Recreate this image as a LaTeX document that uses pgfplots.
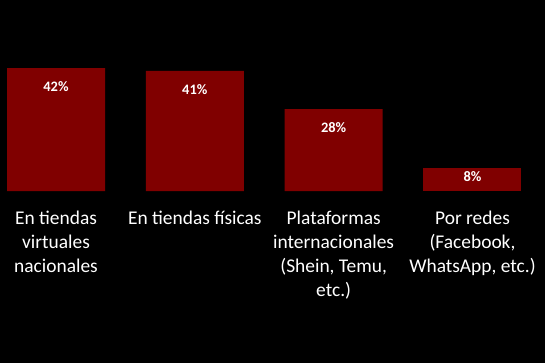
\documentclass[border=0pt]{standalone}
\usepackage{fontspec}
\setmainfont{Carlito}
\usepackage{pgfplots}
\pgfplotsset{compat=1.18}
\definecolor{barred}{RGB}{128,0,0}
\begin{document}
\begin{tikzpicture}[x=1bp,y=1bp]
\fill[black] (0,0) rectangle (545,363);
\begin{axis}[
  at={(0,172bp)}, anchor=south west,
  scale only axis, width=545bp, height=191bp,
  xmin=-0.4034, xmax=3.5223, ymin=0, ymax=65.2,
  axis line style={draw=none}, ytick=\empty,
  xtick={0,1,2,3}, major tick length=0pt,
  xticklabels={{En tiendas\\virtuales\\nacionales},{En tiendas físicas},{Plataformas\\internacionales\\(Shein, Temu,\\etc.)},{Por redes\\(Facebook,\\WhatsApp, etc.)}},
  xticklabel style={align=center, text=white, font=\fontsize{19.5}{24}\selectfont, anchor=north, inner sep=0pt, yshift=-20bp},
  clip=false,
  nodes near coords={\pgfmathprintnumber[assume math mode=true]{\pgfplotspointmeta}\%},
  nodes near coords style={text=white, font=\fontsize{14.5}{16}\selectfont\bfseries, anchor=north, inner sep=0pt, yshift=-13bp},
]
\addplot[ybar, bar shift=0pt, bar width=98bp, fill=barred, draw=none] coordinates {(0,42) (1,41) (2,28)};
\addplot[ybar, bar shift=0pt, bar width=98bp, fill=barred, draw=none, nodes near coords style={yshift=9bp}] coordinates {(3,8)};
\end{axis}
\end{tikzpicture}
\end{document}
